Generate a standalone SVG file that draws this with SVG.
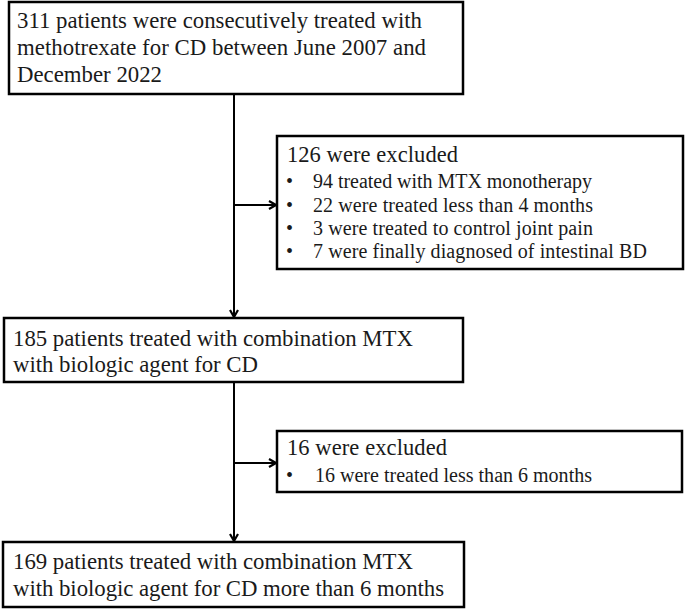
<svg xmlns="http://www.w3.org/2000/svg" width="685" height="609" viewBox="0 0 685 609">
<style>
.box{fill:#fff;stroke:#000;stroke-width:2.5}
.t{font-family:"Liberation Serif","Times New Roman",serif;font-size:22.8px;fill:#1a1a1a}
.s{font-family:"Liberation Serif","Times New Roman",serif;font-size:20px;fill:#1a1a1a}
.h{font-family:"Liberation Serif","Times New Roman",serif;font-size:22.5px;fill:#1a1a1a}
.ln{stroke:#000;stroke-width:2;fill:none}
</style>
<defs>
<marker id="arr" markerWidth="10" markerHeight="10" refX="9" refY="5" orient="auto" markerUnits="userSpaceOnUse">
<polyline points="2,1 9,5 2,9" fill="none" stroke="#000" stroke-width="2.2"/>
</marker>
</defs>
<g id="connectors">
<line class="ln" x1="234" y1="94" x2="234" y2="317" marker-end="url(#arr)"/>
<line class="ln" x1="234" y1="205" x2="276" y2="205" marker-end="url(#arr)"/>
<line class="ln" x1="234" y1="382" x2="234" y2="541" marker-end="url(#arr)"/>
<line class="ln" x1="234" y1="463" x2="276" y2="463" marker-end="url(#arr)"/>
</g>
<g id="n1">
<rect class="box" x="9" y="2" width="454" height="92"/>
<text class="t" x="17" y="28" textLength="405" lengthAdjust="spacing">311 patients were consecutively treated with</text>
<text class="t" x="17" y="55" textLength="409" lengthAdjust="spacing">methotrexate for CD between June 2007 and</text>
<text class="t" x="17" y="82" textLength="145" lengthAdjust="spacing">December 2022</text>
</g>
<g id="n2">
<rect class="box" x="277" y="136" width="406" height="133"/>
<text class="h" x="287" y="162" textLength="171" lengthAdjust="spacing">126 were excluded</text>
<text class="s" x="286" y="188">•</text><text class="s" x="313" y="188" textLength="279" lengthAdjust="spacing">94 treated with MTX monotherapy</text>
<text class="s" x="286" y="212">•</text><text class="s" x="313" y="212" textLength="280" lengthAdjust="spacing">22 were treated less than 4 months</text>
<text class="s" x="286" y="235">•</text><text class="s" x="313" y="235" textLength="280" lengthAdjust="spacing">3 were treated to control joint pain</text>
<text class="s" x="286" y="258">•</text><text class="s" x="313" y="258" textLength="334" lengthAdjust="spacing">7 were finally diagnosed of intestinal BD</text>
</g>
<g id="n3">
<rect class="box" x="4" y="318" width="459" height="64"/>
<text class="t" x="13" y="346" textLength="400" lengthAdjust="spacing">185 patients treated with combination MTX</text>
<text class="t" x="13" y="372" textLength="245" lengthAdjust="spacing">with biologic agent for CD</text>
</g>
<g id="n4">
<rect class="box" x="277" y="431" width="405" height="61"/>
<text class="h" x="287" y="455" textLength="160" lengthAdjust="spacing">16 were excluded</text>
<text class="s" x="286" y="482">•</text><text class="s" x="315" y="482" textLength="277" lengthAdjust="spacing">16 were treated less than 6 months</text>
</g>
<g id="n5">
<rect class="box" x="3" y="542" width="461" height="65"/>
<text class="t" x="13" y="569" textLength="400" lengthAdjust="spacing">169 patients treated with combination MTX</text>
<text class="t" x="13" y="596" textLength="431" lengthAdjust="spacing">with biologic agent for CD more than 6 months</text>
</g>
</svg>
